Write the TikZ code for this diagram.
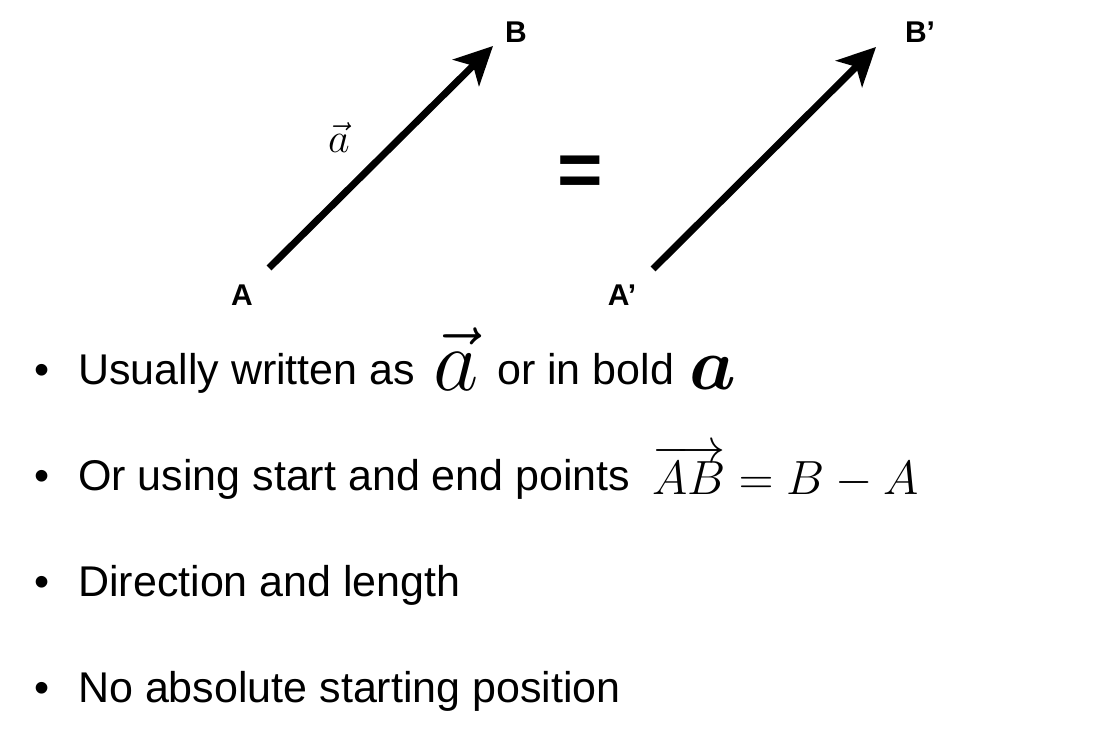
\documentclass[tikz,border=0pt]{standalone}
\usepackage{fix-cm}
\usepackage{amsmath}
\usepackage{amssymb}
\usepackage{bm}
\usepackage{fontspec}
\setmainfont{Liberation Sans}
\usepackage{tikz}
\usetikzlibrary{arrows.meta, positioning, calc}

\begin{document}
\begin{tikzpicture}[
    x=1pt, y=1pt,
    vec/.style={-{Stealth[length=38pt, width=37pt, inset=10pt]}, line width=7pt},
    lbl/.style={font=\fontsize{30}{30}\selectfont\bfseries, inner sep=0pt},
    txt/.style={anchor=base west, inner sep=0pt, font=\fontsize{43}{43}\selectfont},
    dot/.style={anchor=base, inner sep=0pt, font=\fontsize{43}{43}\selectfont}
]
    \useasboundingbox (0,0) rectangle (1097,735);

    % vectors
    \coordinate (tailA)  at (269,467);
    \coordinate (tipB)   at (493,689);
    \coordinate (tailA2) at (653,466);
    \coordinate (tipB2)  at (876,688);

    \node[lbl] (A)  at (242,440) {A};
    \node[lbl] (B)  at (516,703) {B};
    \node[lbl] (A2) at (622,440) {A’};
    \node[lbl] (B2) at (920,703) {B’};

    \draw[vec] (tailA) -- (tipB);
    \draw[vec] (tailA2) -- (tipB2);

    \node[inner sep=0pt, font=\fontsize{42}{42}\selectfont] (veca) at (339,597) {$\vec{a}$};
    \node[inner sep=0pt, font=\fontsize{78}{78}\selectfont\bfseries] (eq) at (580,559) {=};

    % bullet list
    \node[dot] (b1) at (42,350) {•};
    \node[txt] (t1) at (78,350) {Usually written as};
    \node[txt, font=\fontsize{88}{88}\selectfont] (m1) at (433,344) {$\vec{a}$};
    \node[txt] (t1b) at (497,350) {or in bold};
    \node[txt, font=\fontsize{74}{74}\selectfont] (m1b) at (689,345) {$\bm{a}$};

    \node[dot] (b2) at (42,244) {•};
    \node[txt] (t2) at (78,244) {Or using start and end points};
    \node[txt, font=\fontsize{48}{48}\selectfont] (m2) at (652,240) {$\overrightarrow{AB} = B - A$};

    \node[dot] (b3) at (42,138) {•};
    \node[txt] (t3) at (78,138) {Direction and length};

    \node[dot] (b4) at (42,32) {•};
    \node[txt] (t4) at (78,32) {No absolute starting position};
\end{tikzpicture}
\end{document}
